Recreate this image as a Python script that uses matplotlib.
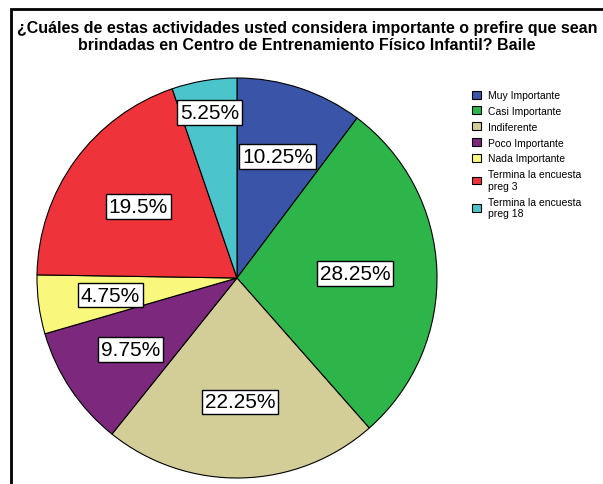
import matplotlib
matplotlib.use("Agg")
import matplotlib.pyplot as plt
from matplotlib.patches import Rectangle
import numpy as np

categories = ["Muy Importante", "Casi Importante", "Indiferente", "Poco Importante",
              "Nada Importante", "Termina la encuesta\npreg 3", "Termina la encuesta\npreg 18"]
values = [10.25, 28.25, 22.25, 9.75, 4.75, 19.5, 5.25]
colors = ["#3A55A8", "#2DB54A", "#D3CE98", "#7C287D", "#FAF87C", "#EF333A", "#4BC5CB"]
title = ("¿Cuáles de estas actividades usted considera importante o prefire que sean\n"
         "brindadas en Centro de Entrenamiento Físico Infantil? Baile")

plt.rcParams['font.family'] = ['Liberation Sans', 'DejaVu Sans']

W, H = 603, 485
fig = plt.figure(figsize=(W / 100, H / 100), dpi=100)
ax = fig.add_axes([0, 0, 1, 1])

cx, cy, r = 237, H - 279, 200
wedges, texts = ax.pie(
    values, colors=colors, startangle=90, counterclock=False,
    center=(cx, cy), radius=r,
    wedgeprops=dict(edgecolor='black', linewidth=0.8), frame=True)
ax.set_xlim(0, W)
ax.set_ylim(0, H)
ax.set_aspect('equal')
ax.axis('off')

# outer frame (cropped on right/bottom)
ax.add_patch(Rectangle((11, -20), 700, H - 10 + 20, fill=False, edgecolor='black', lw=2))

dists = [0.64, 0.59, 0.62, 0.64, 0.64, 0.61, 0.84]
for w, v, d in zip(wedges, values, dists):
    ang = np.deg2rad((w.theta1 + w.theta2) / 2)
    x = cx + d * r * np.cos(ang)
    y = cy + d * r * np.sin(ang)
    lab = f"{v:g}%"
    ax.text(x, y, lab, ha='center', va='center', fontsize=15,
            bbox=dict(boxstyle='square,pad=0.14', facecolor='white', edgecolor='black', lw=1))

ax.text(307, H - 37, title, ha='center', va='center', fontsize=11.5, fontweight='bold',
        linespacing=1.12)

handles = [Rectangle((0, 0), 1, 1, facecolor=c, edgecolor='black', lw=0.8) for c in colors]
leg = fig.legend(handles, categories, loc='upper left', bbox_to_anchor=(468 / W, 1 - 87 / H),
                 frameon=False, fontsize=7.5, handlelength=0.8, handleheight=0.8,
                 handletextpad=0.75, labelspacing=0.56, borderaxespad=0)

fig.savefig("out.png", dpi=100)
